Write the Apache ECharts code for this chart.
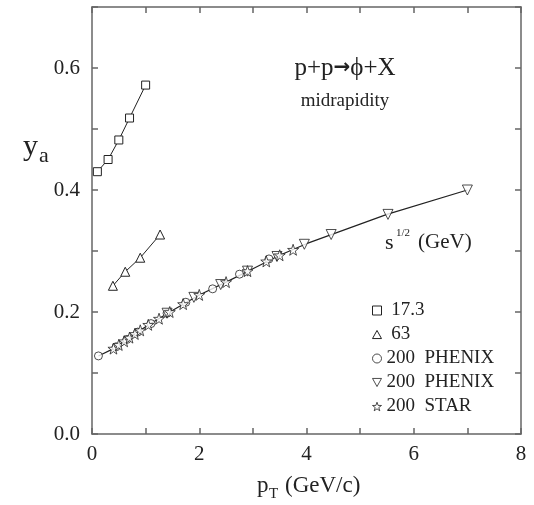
<!DOCTYPE html>
<html>
<head>
<meta charset="utf-8">
<script src="https://cdn.jsdelivr.net/npm/echarts@6/dist/echarts.min.js"></script>
<style>html,body{margin:0;padding:0;background:#fff}#c{width:534px;height:505px}</style>
</head>
<body>
<div id="c"></div>
<script>
// ---- data ----
var sq173X = [0.1, 0.3, 0.5, 0.7, 1.0];
var sq173Y = [0.430, 0.450, 0.482, 0.518, 0.572];
var tri63X = [0.39, 0.62, 0.90, 1.27];
var tri63Y = [0.243, 0.266, 0.289, 0.327];
var circX = [0.12, 0.45, 0.65, 0.85, 1.1, 1.4, 1.75, 2.25, 2.75, 3.3];
var circY = [0.128, 0.143, 0.155, 0.167, 0.181, 0.198, 0.216, 0.238, 0.262, 0.287];
var dtriX = [1.4, 1.9, 2.4, 2.9, 3.45, 3.96, 4.46, 5.52, 7.0];
var dtriY = [0.198, 0.224, 0.245, 0.267, 0.291, 0.311, 0.327, 0.360, 0.400];
var starX = [0.4, 0.5, 0.6, 0.7, 0.8, 0.9, 1.05, 1.25, 1.45, 1.7, 2.0, 2.5, 2.9, 3.25, 3.5, 3.75];
var starY = [0.140, 0.146, 0.152, 0.158, 0.164, 0.170, 0.179, 0.189, 0.200, 0.213, 0.228, 0.249, 0.267, 0.283, 0.293, 0.302];
var fitX = [0.12, 0.4, 0.7, 1.0, 1.45, 2.0, 2.5, 3.0, 3.5, 4.0, 4.5, 5.5, 7.0];
var fitY = [0.128, 0.140, 0.158, 0.176, 0.200, 0.228, 0.249, 0.271, 0.293, 0.312, 0.328, 0.360, 0.400];
var seriesNames = [' 17.3', ' 63', '200  PHENIX', '200  PHENIX ', '200  STAR'];
var xTickLabels = ['0', '2', '4', '6', '8'];
var yTickLabels = ['0.0', '0.2', '0.4', '0.6'];

function pairs(xs, ys) { return xs.map(function (x, i) { return [x, ys[i]]; }); }

var ink = '#222';
var axisCol = '#666';
var serif = 'Liberation Serif';
var starPath = 'path://M0,-10L2.35,-3.24L9.51,-3.09L3.8,1.24L5.88,8.09L0,4L-5.88,8.09L-3.8,1.24L-9.51,-3.09L-2.35,-3.24Z';
var downTri = 'path://M0,0L10,0L5,9Z';
var upTri = 'path://M5,0L10,9L0,9Z';
var legendIcons = ['rect', upTri, 'circle', downTri, starPath];
var hollow = { color: '#fff', borderColor: ink, borderWidth: 1 };

function baseAxis(extra) {
  var a = {
    type: 'value',
    axisLine: { show: true, onZero: false, lineStyle: { color: axisCol, width: 1.5 } },
    axisTick: { show: true, inside: true, length: 6, lineStyle: { color: axisCol, width: 1.5 } },
    splitLine: { show: false },
    minorTick: { show: false }
  };
  for (var k in extra) a[k] = extra[k];
  return a;
}

var chart = echarts.init(document.getElementById('c'), null, { renderer: 'canvas' });
chart.setOption({
  animation: false,
  backgroundColor: '#fff',
  grid: { left: 92, right: 13, top: 7, bottom: 71 },
  xAxis: [
    baseAxis({ min: 0, max: 8, interval: 1, position: 'bottom',
      axisLabel: { fontFamily: serif, fontSize: 21, color: ink, margin: 10,
        formatter: function (v) { var i = xTickLabels.indexOf(String(v)); return i >= 0 ? xTickLabels[i] : ''; } } }),
    baseAxis({ min: 0, max: 8, interval: 1, position: 'top', axisLabel: { show: false } })
  ],
  yAxis: [
    baseAxis({ min: 0, max: 0.7, interval: 0.1, position: 'left',
      axisLabel: { fontFamily: serif, fontSize: 21, color: ink, margin: 12,
        formatter: function (v) { var s = v.toFixed(1); return yTickLabels.indexOf(s) >= 0 ? s : ''; } } }),
    baseAxis({ min: 0, max: 0.7, interval: 0.1, position: 'right', axisLabel: { show: false } })
  ],
  legend: {
    orient: 'vertical', left: 367, top: 296,
    itemWidth: 9, itemHeight: 9, itemGap: 5,
    itemStyle: { color: '#fff', borderColor: ink, borderWidth: 1 },
    textStyle: { fontFamily: serif, fontSize: 19, color: ink, lineHeight: 18 },
    data: seriesNames.map(function (n, i) { return { name: n, icon: legendIcons[i] }; })
  },
  graphic: [
    { type: 'text', x: 345, y: 68, style: { text: '{a|p+p}{b|\u2192}{a|\u03d5+X}', textAlign: 'center', textVerticalAlign: 'middle',
      rich: { a: { fontFamily: serif, fontSize: 25, fill: ink }, b: { fontFamily: 'DejaVu Sans', fontWeight: 'bold', fontSize: 20, fill: ink } } } },
    { type: 'text', x: 345, y: 101, style: { text: 'midrapidity', font: '19px "Liberation Serif"', fill: ink, textAlign: 'center', textVerticalAlign: 'middle' } },
    { type: 'text', x: 23, y: 147, style: { text: 'y', font: '30px "Liberation Serif"', fill: ink, textAlign: 'left', textVerticalAlign: 'middle' } },
    { type: 'text', x: 39, y: 156, style: { text: 'a', font: '22px "Liberation Serif"', fill: ink, textAlign: 'left', textVerticalAlign: 'middle' } },
    { type: 'text', x: 385, y: 243, style: { text: 's', font: '22px "Liberation Serif"', fill: ink, textAlign: 'left', textVerticalAlign: 'middle' } },
    { type: 'text', x: 396, y: 233, style: { text: '1/2', font: '11px "Liberation Serif"', fill: ink, textAlign: 'left', textVerticalAlign: 'middle' } },
    { type: 'text', x: 418, y: 242, style: { text: '(GeV)', font: '21px "Liberation Serif"', fill: ink, textAlign: 'left', textVerticalAlign: 'middle' } },
    { type: 'text', x: 257, y: 486, style: { text: 'p', font: '23px "Liberation Serif"', fill: ink, textAlign: 'left', textVerticalAlign: 'middle' } },
    { type: 'text', x: 269, y: 494, style: { text: 'T', font: '15px "Liberation Serif"', fill: ink, textAlign: 'left', textVerticalAlign: 'middle' } },
    { type: 'text', x: 285, y: 486, style: { text: '(GeV/c)', font: '23px "Liberation Serif"', fill: ink, textAlign: 'left', textVerticalAlign: 'middle' } }
  ],
  series: [
    { name: 'fit', type: 'line', data: pairs(fitX, fitY), showSymbol: false, symbol: 'none',
      lineStyle: { color: ink, width: 1.2 }, z: 1, silent: true },
    { name: seriesNames[0], type: 'line', data: pairs(sq173X, sq173Y), symbol: 'rect', symbolSize: 8,
      lineStyle: { color: ink, width: 1 }, itemStyle: hollow, z: 3 },
    { name: seriesNames[1], type: 'line', data: pairs(tri63X, tri63Y), symbol: 'triangle', symbolSize: 9,
      lineStyle: { color: ink, width: 1 }, itemStyle: hollow, z: 3 },
    { name: seriesNames[2], type: 'scatter', data: pairs(circX, circY), symbol: 'circle', symbolSize: 8,
      itemStyle: hollow, z: 3 },
    { name: seriesNames[3], type: 'scatter', data: pairs(dtriX, dtriY), symbol: 'triangle', symbolRotate: 180, symbolSize: 10,
      itemStyle: hollow, z: 3 },
    { name: seriesNames[4], type: 'scatter', data: pairs(starX, starY), symbol: starPath, symbolSize: 11,
      itemStyle: hollow, z: 4 }
  ]
});
</script>
</body>
</html>
